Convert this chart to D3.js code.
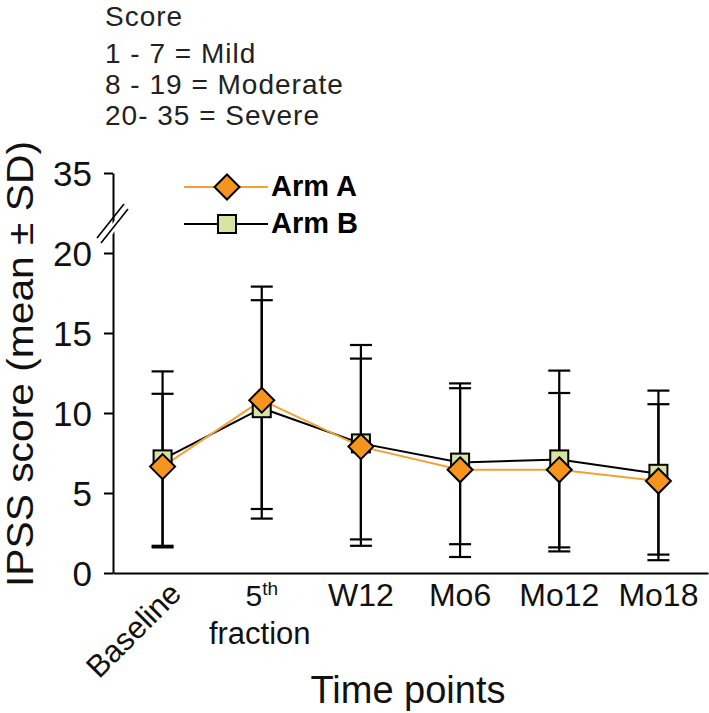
<!DOCTYPE html>
<html><head><meta charset="utf-8">
<script src="https://cdn.jsdelivr.net/npm/d3@7"></script>
<style>body{margin:0;background:#fff}svg{display:block;font-family:"Liberation Sans",Arial,sans-serif}</style>
</head><body>
<svg id="c" width="709" height="713"></svg>
<script>
const categories = ["Baseline", "5th fraction", "W12", "Mo6", "Mo12", "Mo18"];
const armAMean = [6.65, 10.8, 7.9, 6.45, 6.45, 5.75];
const armAHigh = [11.2, 17.9, 14.25, 11.85, 12.65, 11.4];
const armALow  = [1.7, 3.4, 2.1, 1.8, 1.6, 1.15];
const armBMean = [7.1, 10.3, 8.1, 6.9, 7.1, 6.2];
const armBHigh = [12.6, 17.05, 13.4, 11.55, 11.25, 10.55];
const armBLow  = [1.6, 4.0, 1.7, 1.0, 1.35, 0.8];
const yTicks = [0, 5, 10, 15, 20, 35];
const scoreNotes = ["Score", "1 - 7 = Mild", "8 - 19 = Moderate", "20- 35 = Severe"];
const seriesNames = ["Arm A", "Arm B"];

const svg = d3.select("#c");
const x = d3.scalePoint().domain(categories).range([113, 708]).padding(0.5);
const y = d3.scaleLinear().domain([0, 20, 35]).range([573, 253, 173]);
const orange = "#F7941D", orangeLine = "#F5A033", green = "#D6E4A2";

// score notes
const noteY = [26, 63, 94, 125];
svg.selectAll("text.note").data(scoreNotes).join("text")
  .attr("x", 105).attr("y", (d, i) => noteY[i])
  .attr("font-size", 28).attr("letter-spacing", 1).attr("fill", "#222").text(d => d);

// y axis
const yAxis = d3.axisLeft(y).tickValues(yTicks).tickSize(9).tickPadding(12).tickSizeOuter(0);
const ga = svg.append("g").attr("transform", "translate(113,0)").call(yAxis);
ga.select(".domain").attr("stroke", "#000").attr("stroke-width", 2);
ga.selectAll(".tick line").attr("stroke", "#000").attr("stroke-width", 2);
ga.selectAll(".tick text").attr("font-size", 35).attr("fill", "#111").attr("font-family", "Liberation Sans, Arial, sans-serif").attr("dy", "0.36em");

// axis break
const yb = (y(20) + y(35)) / 2 + 5;
svg.append("path").attr("d", `M${100},${yb + 22} L${126},${yb - 12} L${131},${yb - 8} L${105},${yb + 26} Z`).attr("fill", "#fff");
svg.append("line").attr("x1", 97).attr("y1", yb + 20).attr("x2", 124).attr("y2", yb - 14).attr("stroke", "#000").attr("stroke-width", 1.6);
svg.append("line").attr("x1", 101).attr("y1", yb + 25).attr("x2", 128).attr("y2", yb - 9).attr("stroke", "#000").attr("stroke-width", 1.6);

// x axis
const xAxis = d3.axisBottom(x).tickSize(0).tickSizeOuter(0).tickFormat("");
const gx = svg.append("g").attr("transform", `translate(0,${y(0)})`).call(xAxis);
gx.select(".domain").attr("stroke", "#000").attr("stroke-width", 2);

// x labels
categories.forEach((c, i) => {
  const cx = x(c);
  if (c === "Baseline") {
    svg.append("text").attr("transform", `translate(${cx + 4},${y(0) + 6}) rotate(-45)`)
      .attr("text-anchor", "end").attr("dy", "0.75em").attr("font-size", 31).attr("fill", "#111").text(c);
  } else if (c === "5th fraction") {
    const t = svg.append("text").attr("x", cx).attr("y", 606).attr("text-anchor", "middle").attr("font-size", 30).attr("fill", "#111");
    t.append("tspan").text("5");
    t.append("tspan").attr("font-size", 19).attr("dy", -11).text("th");
    svg.append("text").attr("x", cx - 2).attr("y", 644).attr("text-anchor", "middle").attr("font-size", 31).attr("fill", "#111").text("fraction");
  } else {
    svg.append("text").attr("x", cx).attr("y", 606).attr("text-anchor", "middle").attr("font-size", 32).attr("fill", "#111").text(c);
  }
});

// axis titles
svg.append("text").attr("x", 408).attr("y", 703).attr("text-anchor", "middle").attr("font-size", 38).attr("fill", "#111").text("Time points");
svg.append("text").attr("transform", `translate(33,${364}) rotate(-90)`).attr("text-anchor", "middle")
  .attr("font-size", 36).attr("fill", "#111").attr("textLength", 446).attr("lengthAdjust", "spacingAndGlyphs").text("IPSS score (mean ± SD)");

// error bars
function errBars(hi, lo) {
  const g = svg.append("g").attr("stroke", "#000").attr("stroke-width", 2.2);
  categories.forEach((c, i) => {
    const cx = x(c);
    g.append("line").attr("x1", cx).attr("x2", cx).attr("y1", y(hi[i])).attr("y2", y(lo[i]));
    [hi[i], lo[i]].forEach(v => g.append("line").attr("x1", cx - 11).attr("x2", cx + 11).attr("y1", y(v)).attr("y2", y(v)));
  });
}
errBars(armAHigh, armALow);
errBars(armBHigh, armBLow);

// lines
const lineGen = d3.line().x((d, i) => x(categories[i])).y(d => y(d));
svg.append("path").datum(armBMean).attr("d", lineGen).attr("fill", "none").attr("stroke", "#000").attr("stroke-width", 2);
svg.append("path").datum(armAMean).attr("d", lineGen).attr("fill", "none").attr("stroke", orangeLine).attr("stroke-width", 2);

// markers
const sq = 18, dm = 12.5;
svg.selectAll("rect.b").data(armBMean).join("rect")
  .attr("x", (d, i) => x(categories[i]) - sq / 2).attr("y", d => y(d) - sq / 2)
  .attr("width", sq).attr("height", sq).attr("fill", green).attr("stroke", "#000").attr("stroke-width", 2);
const diamond = (cx, cy) => `M${cx},${cy - dm}L${cx + dm},${cy}L${cx},${cy + dm}L${cx - dm},${cy}Z`;
svg.selectAll("path.a").data(armAMean).join("path")
  .attr("d", (d, i) => diamond(x(categories[i]), y(d)))
  .attr("fill", orange).attr("stroke", "#000").attr("stroke-width", 2);

// legend
const lg = svg.append("g");
lg.append("line").attr("x1", 184).attr("x2", 268).attr("y1", 187).attr("y2", 187).attr("stroke", orangeLine).attr("stroke-width", 2);
lg.append("path").attr("d", diamond(227, 187)).attr("fill", orange).attr("stroke", "#000").attr("stroke-width", 2);
lg.append("line").attr("x1", 184).attr("x2", 268).attr("y1", 224).attr("y2", 224).attr("stroke", "#000").attr("stroke-width", 2);
lg.append("rect").attr("x", 227 - sq / 2).attr("y", 224 - sq / 2).attr("width", sq).attr("height", sq).attr("fill", green).attr("stroke", "#000").attr("stroke-width", 2);
lg.selectAll("text").data(seriesNames).join("text")
  .attr("x", 271).attr("y", (d, i) => [196, 233][i]).attr("font-size", 29).attr("font-weight", "bold").attr("fill", "#000").text(d => d);
</script>
</body></html>
